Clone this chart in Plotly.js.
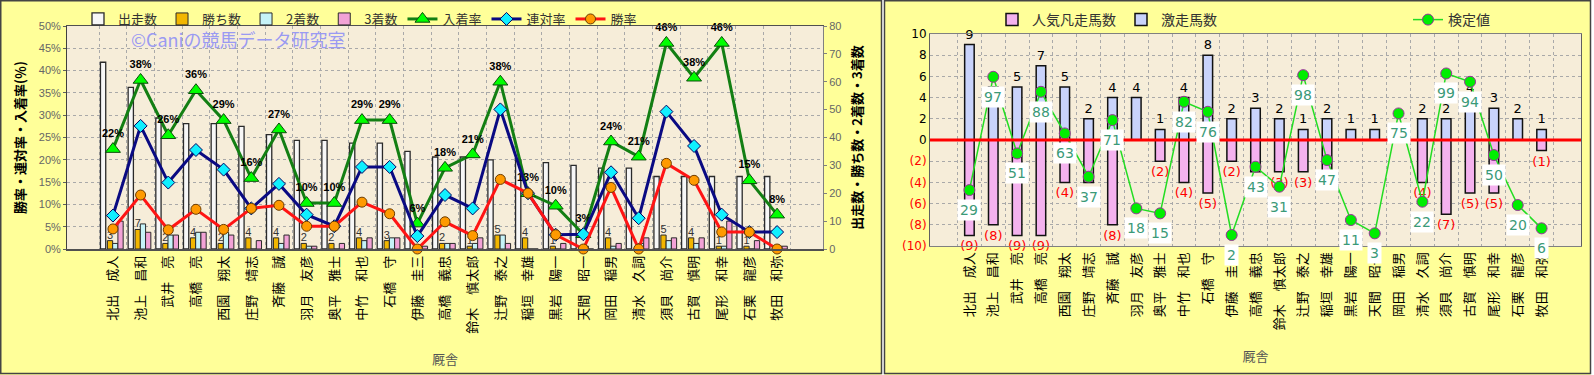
<!DOCTYPE html>
<html><head><meta charset="utf-8">
<script src="https://cdn.plot.ly/plotly-3.0.1.min.js"></script>
<style>html,body{margin:0;padding:0;background:#fff;}#chart{width:1594px;height:375px;}</style>
</head><body><div id="chart"></div>
<script>
// ---- data ----
const trainers = ['北出　成人','池上　昌和','武井　亮','高橋　亮','西園　翔太','庄野　靖志','斉藤　誠','羽月　友彦','奥平　雅士','中竹　和也','石橋　守','伊藤　圭三','高橋　義忠','鈴木　慎太郎','辻野　泰之','稲垣　幸雄','黒岩　陽一','天間　昭一','岡田　稲男','清水　久詞','須貝　尚介','古賀　慎明','尾形　和幸','石栗　龍彦','牧田　和弥'];
const starts  = [67, 58, 47, 45, 45, 44, 41, 39, 39, 38, 38, 35, 33, 33, 32, 32, 31, 30, 29, 29, 26, 26, 26, 26, 26];
const wins    = [3, 7, 2, 4, 2, 4, 4, 2, 2, 4, 3, 0, 2, 1, 5, 4, 1, 0, 4, 0, 5, 4, 1, 1, 0];
const seconds = [2, 9, 5, 6, 6, 0, 2, 1, 0, 3, 4, 1, 2, 2, 5, 0, 0, 1, 1, 2, 3, 2, 1, 0, 1];
const thirds  = [10, 6, 5, 6, 5, 3, 5, 1, 2, 4, 4, 1, 2, 4, 2, 0, 2, 0, 2, 4, 4, 4, 10, 3, 1];
const placeRate    = [22.4, 37.9, 25.5, 35.6, 28.9, 15.9, 26.8, 10.3, 10.3, 28.9, 28.9, 5.7, 18.2, 21.2, 37.5, 12.5, 9.7, 3.3, 24.1, 20.7, 46.2, 38.4, 46.2, 15.4, 7.7];
const quinellaRate = [7.5, 27.6, 14.9, 22.2, 17.8, 9.1, 14.6, 7.7, 5.1, 18.4, 18.4, 2.9, 12.1, 9.1, 31.3, 12.5, 3.2, 3.3, 17.2, 6.9, 30.8, 23.1, 7.7, 3.8, 3.8];
const winRate      = [4.5, 12.1, 4.3, 8.9, 4.4, 9.1, 9.8, 5.1, 5.1, 10.5, 7.9, 0, 6.1, 3.0, 15.6, 12.5, 3.2, 0, 13.8, 0, 19.2, 15.4, 3.8, 3.8, 0];

const popularFlops = [-9, -8, -9, -9, -4, -4, -8, 0, -2, -4, -5, -2, -3, -3, -3, -3, 0, 0, 0, -4, -7, -5, -5, 0, -1];
const upsets       = [9, 5, 5, 7, 5, 2, 4, 4, 1, 4, 8, 2, 3, 2, 1, 2, 1, 1, 0, 2, 2, 4, 3, 2, 1];
const testValues   = [29, 97, 51, 88, 63, 37, 71, 18, 15, 82, 76, 2, 43, 31, 98, 47, 11, 3, 75, 22, 99, 94, 50, 20, 6];

const rightTickVals = [-10, -8, -6, -4, -2, 0, 2, 4, 6, 8, 10];

// ---- helpers ----
const W = 1594, H = 375;
const px = v => v / W;
const py = v => 1 - v / H;
const JP = 'Noto Sans CJK JP';
const grid = {showgrid: true, gridcolor: '#a9a9a9', griddash: 'dot', gridwidth: 1};
const catFont = {family: JP, size: 13, color: '#000'};
const barLine = {color: '#2a2a2a', width: 1};

const traces = [
  {type: 'bar', name: '出走数', x: trainers, y: starts, xaxis: 'x', yaxis: 'y', offset: -0.45, width: 0.19,
   marker: {color: '#f7f7f7', line: {color: '#2a2a2a', width: 1.3}}, legend: 'legend'},
  {type: 'bar', name: '勝ち数', x: trainers, y: wins, xaxis: 'x', yaxis: 'y', offset: -0.2, width: 0.19,
   marker: {color: '#f2b600', line: barLine}, legend: 'legend',
   text: wins.map(v => v > 0 ? String(v) : ''), textposition: 'outside', constraintext: 'none', cliponaxis: false,
   outsidetextfont: {family: 'Liberation Sans', size: 11, color: '#333'}},
  {type: 'bar', name: '2着数', x: trainers, y: seconds, xaxis: 'x', yaxis: 'y', offset: -0.01, width: 0.19,
   marker: {color: '#c6f3f8', line: barLine}, legend: 'legend'},
  {type: 'bar', name: '3着数', x: trainers, y: thirds, xaxis: 'x', yaxis: 'y', offset: 0.18, width: 0.19,
   marker: {color: '#f2a2d6', line: barLine}, legend: 'legend'},
  {type: 'scatter', name: '入着率', x: trainers, y: placeRate, xaxis: 'x', yaxis: 'y2', mode: 'lines+markers+text',
   line: {color: '#137f13', width: 3}, marker: {symbol: 'triangle-up', size: 13, color: '#00ff00', line: {color: '#0b4d0b', width: 1}},
   text: placeRate.map(v => Math.round(v) + '%'), textposition: 'top center',
   textfont: {family: 'Liberation Sans', size: 11, color: '#000', weight: 700}, cliponaxis: false, legend: 'legend'},
  {type: 'scatter', name: '連対率', x: trainers, y: quinellaRate, xaxis: 'x', yaxis: 'y2', mode: 'lines+markers',
   line: {color: '#0a0a82', width: 3}, marker: {symbol: 'diamond', size: 10, color: '#10f0ff', line: {color: '#000060', width: 1}},
   cliponaxis: false, legend: 'legend'},
  {type: 'scatter', name: '勝率', x: trainers, y: winRate, xaxis: 'x', yaxis: 'y2', mode: 'lines+markers',
   line: {color: '#ff1414', width: 3}, marker: {symbol: 'circle', size: 10, color: '#ff9a00', line: {color: '#6b3b00', width: 1}},
   cliponaxis: false, legend: 'legend'},

  {type: 'bar', name: '人気凡走馬数', x: trainers, y: popularFlops, xaxis: 'x2', yaxis: 'y3', offset: -0.2, width: 0.4,
   marker: {color: '#f4b2ee', line: {color: '#111', width: 1.5}}, legend: 'legend2',
   text: popularFlops.map(v => v < 0 ? '(' + (-v) + ')' : ''), textposition: 'outside', constraintext: 'none', cliponaxis: false,
   outsidetextfont: {family: 'DejaVu Sans', size: 13, color: '#ff0000'}},
  {type: 'bar', name: '激走馬数', x: trainers, y: upsets, xaxis: 'x2', yaxis: 'y3', offset: -0.2, width: 0.4,
   marker: {color: '#c9d3fb', line: {color: '#111', width: 1.5}}, legend: 'legend2',
   text: upsets.map(v => v > 0 ? String(v) : ''), textposition: 'outside', constraintext: 'none', cliponaxis: false,
   outsidetextfont: {family: 'DejaVu Sans', size: 13, color: '#000'}},
  {type: 'scatter', name: '検定値', x: trainers, y: testValues, xaxis: 'x2', yaxis: 'y4', mode: 'lines+markers',
   line: {color: '#22dd22', width: 1.5}, marker: {symbol: 'circle', size: 11, color: '#00ee00', line: {color: '#993399', width: 1}},
   cliponaxis: false, legend: 'legend3'}
];

const testLabels = testValues.map((v, i) => ({
  xref: 'x2', yref: 'y4', x: trainers[i], y: v, text: String(v), showarrow: false, yshift: -20,
  bgcolor: '#ffffff', borderpad: 2, font: {family: 'DejaVu Sans', size: 14, color: '#3b9a78'}
}));

const layout = {
  width: W, height: H, margin: {l: 0, r: 0, t: 0, b: 0},
  paper_bgcolor: '#ffff99', plot_bgcolor: '#f6edd9',
  font: {family: JP, color: '#333'},
  barmode: 'overlay', showlegend: true, hovermode: false,
  xaxis: Object.assign({domain: [px(67), px(823)], anchor: 'y', type: 'category', tickangle: -90, tickson: 'boundaries',
    ticks: '', tickfont: catFont, showline: true, linecolor: '#505050', linewidth: 1.5, mirror: true,
    title: {text: '厩舎', font: {family: JP, size: 13, color: '#555'}, standoff: 22}}, grid),
  yaxis: {domain: [py(249), py(26)], anchor: 'x', side: 'right', range: [0, 80], dtick: 10, showgrid: false, zeroline: false,
    ticks: 'outside', ticklen: 3, tickcolor: '#808080', showline: true, linecolor: '#808080',
    tickfont: {family: 'Liberation Sans', size: 11, color: '#666'},
    title: {text: '出走数・勝ち数・2着数・3着数', font: {family: JP, size: 13, color: '#000', weight: 700}, standoff: 12}},
  yaxis2: Object.assign({overlaying: 'y', anchor: 'x', side: 'left', range: [0, 50], dtick: 5, ticksuffix: '%', zeroline: false,
    ticks: 'outside', ticklen: 3, tickcolor: '#606060', showline: true, linecolor: '#404040',
    tickfont: {family: 'Liberation Sans', size: 11, color: '#666'},
    title: {text: '勝率・連対率・入着率(％)', font: {family: JP, size: 13, color: '#000', weight: 700}, standoff: 10}}, grid),
  xaxis2: Object.assign({domain: [px(930), px(1581)], anchor: 'y3', type: 'category', tickangle: -90, tickson: 'boundaries',
    ticks: '', tickfont: catFont, showline: true, linecolor: '#808080', linewidth: 1, mirror: true,
    title: {text: '厩舎', font: {family: JP, size: 13, color: '#555'}, standoff: 22}}, grid),
  yaxis3: Object.assign({domain: [py(246), py(34)], anchor: 'x2', range: [-10, 10], zeroline: false,
    tickvals: rightTickVals,
    ticktext: rightTickVals.map(v => v < 0 ? '<span style="color:#ff0000">(' + (-v) + ')</span>' : String(v)),
    ticks: '', showline: true, linecolor: '#606060', mirror: true,
    tickfont: {family: 'DejaVu Sans', size: 12, color: '#000'}}, grid),
  yaxis4: {overlaying: 'y3', anchor: 'x2', range: [-4.6, 122.7], visible: false},
  legend: {x: px(78), y: py(4), xanchor: 'left', yanchor: 'top', orientation: 'h', bgcolor: 'rgba(0,0,0,0)',
    font: {family: JP, size: 13, color: '#333'}, traceorder: 'normal'},
  legend2: {x: px(992), y: py(4), xanchor: 'left', yanchor: 'top', orientation: 'h', bgcolor: 'rgba(0,0,0,0)',
    font: {family: JP, size: 14, color: '#333'}, traceorder: 'normal'},
  legend3: {x: px(1408), y: py(4), xanchor: 'left', yanchor: 'top', orientation: 'h', bgcolor: 'rgba(0,0,0,0)',
    font: {family: JP, size: 14, color: '#333'}},
  annotations: [
    {xref: 'paper', yref: 'paper', x: px(238), y: py(39), xanchor: 'center', yanchor: 'middle', text: '©Caniの競馬データ研究室', showarrow: false,
     borderpad: 0, font: {family: JP, size: 18, color: '#9a9af2'}}
  ].concat(testLabels),
  shapes: [
    {type: 'rect', xref: 'paper', yref: 'paper', x0: px(881.5), x1: px(884.5), y0: 0, y1: 1, fillcolor: '#ffffff', line: {width: 0}, layer: 'below'},
    {type: 'rect', xref: 'paper', yref: 'paper', x0: px(1590.5), x1: 1, y0: 0, y1: 1, fillcolor: '#ffffff', line: {width: 0}, layer: 'below'},
    {type: 'rect', xref: 'paper', yref: 'paper', x0: px(0.75), x1: px(881.5), y0: py(373.5), y1: py(0.75), line: {color: '#444', width: 1.5}},
    {type: 'rect', xref: 'paper', yref: 'paper', x0: px(884.5), x1: px(1590.5), y0: py(373.5), y1: py(0.75), line: {color: '#444', width: 1.5}},
    {type: 'line', xref: 'x2 domain', yref: 'y3', x0: 0, x1: 1, y0: 0, y1: 0, line: {color: '#ff0000', width: 3}, layer: 'above'}
  ]
};

Plotly.newPlot('chart', traces, layout, {staticPlot: true, displayModeBar: false});
</script>
</body></html>
